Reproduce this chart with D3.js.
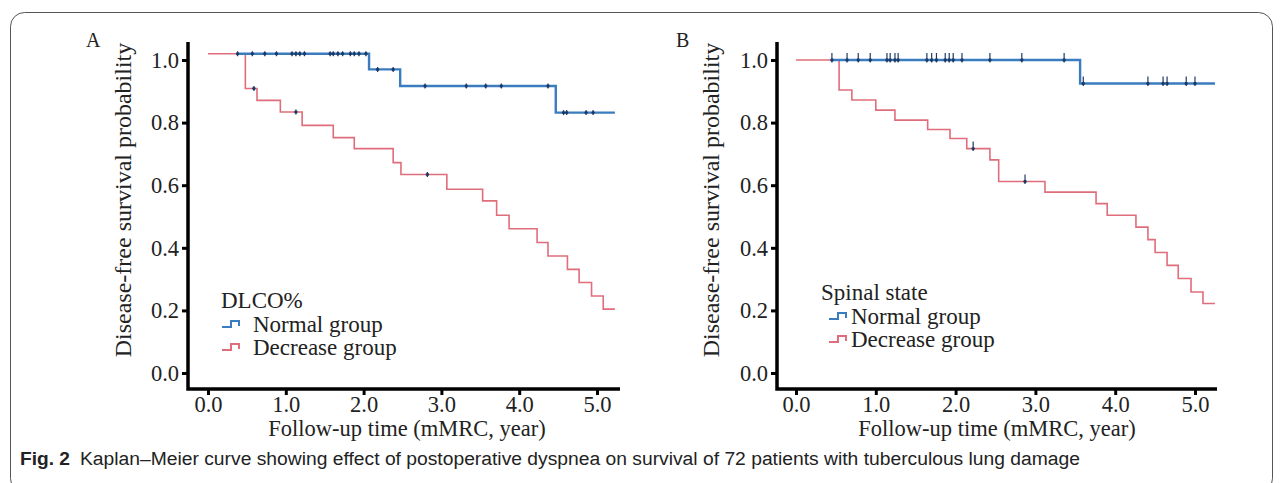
<!DOCTYPE html>
<html>
<head>
<meta charset="utf-8">
<script src="https://cdn.jsdelivr.net/npm/d3@7"></script>
<style>
	body { margin: 0; background: #fff; }
	svg { display: block; }
</style>
</head>
<body>
<svg id="chart" width="1284" height="483"></svg>
<script>
// Kaplan-Meier step points: [time (year), survival]; last point marks the end of follow-up
const dlcoNormal = [[0.38, 1.02], [2.07, 0.97], [2.47, 0.917], [4.47, 0.832], [5.23, 0.832]]
const dlcoNormalCensor = [0.38, 0.57, 0.73, 0.88, 1.08, 1.13, 1.18, 1.24, 1.57, 1.61, 1.67, 1.73,
	1.83, 1.88, 1.94, 2.03, 2.18, 2.38, 2.79, 3.32, 3.57, 3.77, 4.37, 4.57, 4.61, 4.86, 4.95]
const dlcoDecrease = [[0, 1.02], [0.48, 0.909], [0.63, 0.871], [0.93, 0.834], [1.21, 0.791],
	[1.61, 0.752], [1.88, 0.717], [2.38, 0.672], [2.48, 0.634], [3.07, 0.587], [3.53, 0.55],
	[3.71, 0.504], [3.87, 0.461], [4.23, 0.417], [4.37, 0.374], [4.62, 0.331], [4.77, 0.289],
	[4.93, 0.246], [5.08, 0.204], [5.23, 0.204]]
const dlcoDecreaseCensor = [0.59, 1.13, 2.82]

const spinalNormal = [[0.45, 1.0], [3.56, 0.925], [5.25, 0.925]]
const spinalNormalCensor = [0.45, 0.64, 0.78, 0.93, 1.14, 1.18, 1.24, 1.28, 1.64, 1.70, 1.76,
	1.87, 1.92, 1.97, 2.08, 2.43, 2.83, 3.36, 3.60, 4.41, 4.60, 4.65, 4.89, 5.00]
const spinalDecrease = [[0, 1.0], [0.54, 0.904], [0.70, 0.872], [1.0, 0.840], [1.24, 0.808],
	[1.65, 0.778], [1.93, 0.749], [2.14, 0.717], [2.43, 0.681], [2.54, 0.612], [3.12, 0.578],
	[3.76, 0.541], [3.90, 0.504], [4.26, 0.466], [4.41, 0.426], [4.50, 0.385], [4.65, 0.344],
	[4.79, 0.302], [4.95, 0.259], [5.10, 0.222], [5.25, 0.222]]
const spinalDecreaseCensor = [2.22, 2.87]

const xTicks = [0, 1, 2, 3, 4, 5]
const yTicks = [0, 0.2, 0.4, 0.6, 0.8, 1.0]
const groupNames = ["Normal group", "Decrease group"]
const caption = "Kaplan\u2013Meier curve showing effect of postoperative dyspnea on survival of 72 patients with tuberculous lung damage"

const colours = { normal: "#3a7cc0", decrease: "#e06d7b", censor: "#1d3a66" }
const serif = "'Liberation Serif', 'Times New Roman', serif"

const panels = [
	{
		letter: "A", legendTitle: "DLCO%",
		normal: dlcoNormal, normalCensor: dlcoNormalCensor,
		decrease: dlcoDecrease, decreaseCensor: dlcoDecreaseCensor,
		x0: 208, x5: 597, axisLeft: 188, axisRight: 620,
		yTitleX: 123, xTitleX: 407, letterX: 86,
		legend: { x: 221, y: 300, symX: 222, textX: 253 },
		tallCensor: false,
	},
	{
		letter: "B", legendTitle: "Spinal state",
		normal: spinalNormal, normalCensor: spinalNormalCensor,
		decrease: spinalDecrease, decreaseCensor: spinalDecreaseCensor,
		x0: 796, x5: 1195, axisLeft: 777, axisRight: 1217,
		yTitleX: 711, xTitleX: 997, letterX: 676,
		legend: { x: 821, y: 292, symX: 829, textX: 851 },
		tallCensor: true,
	},
]

const svg = d3.select("#chart")

// figure frame
svg.append("rect")
	.attr("x", 10.5).attr("y", 12.5)
	.attr("width", 1262).attr("height", 480)
	.attr("rx", 14)
	.attr("fill", "none")
	.attr("stroke", "#555")
	.attr("stroke-width", 1)

panels.forEach(drawPanel)

function stepValue(steps, t) {
	// survival at time t from the step points
	let v = steps[0][1]
	for (const [time, s] of steps) if (time <= t) v = s
	return v
}

function drawPanel(p) {
	const x = d3.scaleLinear().domain([0, 5]).range([p.x0, p.x5])
	const y = d3.scaleLinear().domain([0, 1]).range([373, 60])
	const axisY = 389
	const g = svg.append("g")

	// y axis
	const yAxis = g.append("g")
		.attr("transform", `translate(${p.axisLeft},0)`)
		.call(d3.axisLeft(y).tickValues(yTicks).tickFormat(d3.format(".1f")).tickSize(6).tickPadding(3).tickSizeOuter(0))
	yAxis.select(".domain").remove()
	yAxis.selectAll(".tick line").attr("stroke", "#000").attr("stroke-width", 3)
	yAxis.selectAll(".tick text")
		.style("font-family", serif).style("font-size", "22.5px").attr("fill", "#222")

	// x axis
	const xAxis = g.append("g")
		.attr("transform", `translate(0,${axisY})`)
		.call(d3.axisBottom(x).tickValues(xTicks).tickFormat(d3.format(".1f")).tickSize(6).tickPadding(1).tickSizeOuter(0))
	xAxis.select(".domain").remove()
	xAxis.selectAll(".tick line").attr("stroke", "#000").attr("stroke-width", 3)
	xAxis.selectAll(".tick text")
		.style("font-family", serif).style("font-size", "22.5px").attr("fill", "#222")

	// axis lines
	g.append("path")
		.attr("d", `M${p.axisLeft},42V${axisY}H${p.axisRight}`)
		.attr("fill", "none")
		.attr("stroke", "#000")
		.attr("stroke-width", 3.5)

	// titles
	g.append("text")
		.attr("transform", `translate(${p.yTitleX},200) rotate(-90)`)
		.attr("text-anchor", "middle")
		.attr("dominant-baseline", "central")
		.style("font-family", serif).style("font-size", "24px").attr("fill", "#222")
		.text("Disease-free survival probability")
	g.append("text")
		.attr("x", p.xTitleX).attr("y", 436)
		.attr("text-anchor", "middle")
		.style("font-family", serif).style("font-size", "22.5px").attr("fill", "#222")
		.text("Follow-up time (mMRC, year)")
	g.append("text")
		.attr("x", p.letterX).attr("y", 47)
		.style("font-family", serif).style("font-size", "20px").attr("fill", "#222")
		.text(p.letter)

	// curves
	const line = d3.line()
		.x(d => x(d[0]))
		.y(d => y(d[1]))
		.curve(d3.curveStepAfter)

	const series = [
		{ steps: p.decrease, censor: p.decreaseCensor, colour: colours.decrease, width: 1.6 },
		{ steps: p.normal, censor: p.normalCensor, colour: colours.normal, width: 2.4 },
	]
	series.forEach(s => {
		g.append("path")
			.datum(s.steps)
			.attr("d", line)
			.attr("fill", "none")
			.attr("stroke", s.colour)
			.attr("stroke-width", s.width)
		const marks = g.append("g").selectAll("g")
			.data(s.censor)
			.join("g")
			.attr("transform", t => `translate(${x(t)},${y(stepValue(s.steps, t))})`)
		marks.append("line")
			.attr("y1", p.tallCensor ? -7 : -2.5).attr("y2", 2.5)
			.attr("stroke", colours.censor)
			.attr("stroke-width", 1.2)
		marks.append("circle")
			.attr("r", 1.7)
			.attr("fill", colours.censor)
	})

	// legend
	const lg = g.append("g")
	lg.append("text")
		.attr("x", p.legend.x).attr("y", p.legend.y)
		.attr("dominant-baseline", "central")
		.style("font-family", serif).style("font-size", "23px").attr("fill", "#222")
		.text(p.legendTitle)
	const items = lg.selectAll("g.item")
		.data(groupNames)
		.join("g")
		.attr("class", "item")
		.attr("transform", (d, i) => `translate(0,${p.legend.y + 24 + i * 23})`)
	items.append("path")
		.attr("d", `M${p.legend.symX},3H${p.legend.symX + 9}V-3H${p.legend.symX + 17}V2`)
		.attr("fill", "none")
		.attr("stroke", (d, i) => i === 0 ? colours.normal : colours.decrease)
		.attr("stroke-width", 2)
	items.append("text")
		.attr("x", p.legend.textX).attr("y", 0)
		.attr("dominant-baseline", "central")
		.style("font-family", serif).style("font-size", "23px").attr("fill", "#222")
		.text(d => d)
}

// caption
const cap = svg.append("text")
	.attr("x", 20).attr("y", 465)
	.style("font-family", "'Liberation Sans', Arimo, sans-serif")
	.style("font-size", "18px")
	.attr("fill", "#222")
cap.append("tspan")
	.style("font-weight", "bold")
	.attr("textLength", 50).attr("lengthAdjust", "spacingAndGlyphs")
	.text("Fig. 2")
cap.append("tspan")
	.attr("x", 80)
	.attr("textLength", 1000).attr("lengthAdjust", "spacingAndGlyphs")
	.text(caption)
</script>
</body>
</html>
